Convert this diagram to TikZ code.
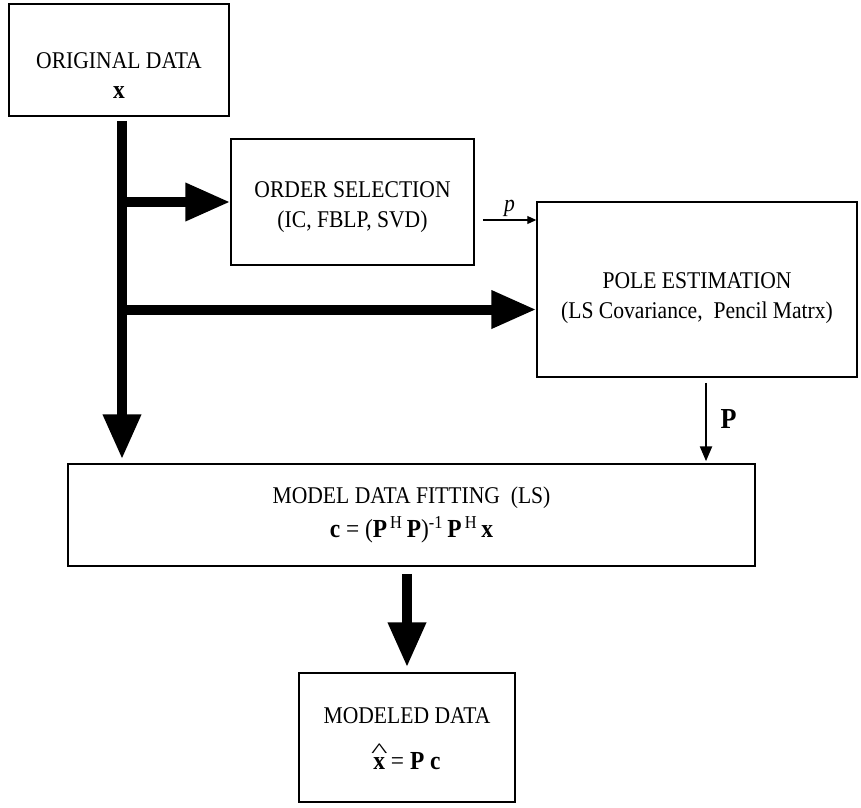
\documentclass[tikz,border=0pt]{standalone}
\usepackage{fontspec}
\setmainfont{Liberation Serif}[FakeStretch=0.9]
\usetikzlibrary{arrows.meta,positioning,calc}

\newcommand{\bighat}[1]{\ooalign{#1\cr\hidewidth\raisebox{12pt}{\scalebox{1.5}[0.8]{\^{}}}\hidewidth\cr}}

\begin{document}
\begin{tikzpicture}
  [x=1pt, y=-1pt,
   block/.style={
     rectangle,
     draw,
     line width=1.5pt,
     inner sep=0pt
     },
   blocktext/.style={
     inner sep=0pt,
     align=center,
     font=\fontsize{24}{30}\selectfont
     },
   bigarrow/.style={line width=10pt, -{Triangle[length=45pt,width=36pt]}},
   thinarrow/.style={line width=2.4pt, -{Triangle[length=15pt,width=12pt]}},
   hairarrow/.style={line width=1.2pt, -{Triangle[length=9pt,width=8pt]}}
  ]
  \useasboundingbox (0,0) rectangle (861,807);

  \node [block, minimum width=220pt, minimum height=112pt] (original) at (119,60) {};
  \node [blocktext] (originaltext) at ($(original)+(0,16)$)
    {ORIGINAL DATA\\ {\fontsize{26}{30}\selectfont\textbf{x}}};

  \node [block, minimum width=243pt, minimum height=126pt] (order) at (352.5,202) {};
  \node [blocktext] (ordertext) at ($(order)+(0,5)$)
    {ORDER SELECTION\\ (IC, FBLP, SVD)};

  \node [block, minimum width=320pt, minimum height=175pt] (pole) at (697,289.5) {};
  \node [blocktext] (poletext) at ($(pole)+(0,9)$)
    {POLE ESTIMATION\\ (LS Covariance,\ \ Pencil Matrx)};

  \node [block, minimum width=687pt, minimum height=102pt] (fitting) at (411.5,515) {};
  \node [blocktext] (fittingtext) at ($(fitting)+(0,0)$)
    {MODEL DATA FITTING\ \ (LS)\\[4pt]
     {\fontsize{26}{30}\selectfont\textbf{c} = (\textbf{P}\textsuperscript{\,H}\,\textbf{P})\textsuperscript{-1}\,\textbf{P}\textsuperscript{\,H}\,\textbf{x}}};

  \node [block, minimum width=216pt, minimum height=129pt] (modeled) at (407,737.5) {};
  \node [blocktext] (modeledtext) at ($(modeled)+(0,1)$)
    {MODELED DATA\\[16pt]
     {\fontsize{26}{30}\selectfont\bighat{\textbf{x}} = \textbf{P} \textbf{c}}};

  % tronco principale e diramazioni
  \coordinate (trunk) at ($(original.south)+(3,4)$);
  \draw[bigarrow, shorten >=4pt] (trunk) -- (trunk |- fitting.north);
  \draw[bigarrow] (trunk |- order.west) -- (order.west);
  \coordinate (polein) at ($(pole.west)+(0,20)$);
  \draw[bigarrow] (trunk |- polein) -- (polein);

  \coordinate (pstart) at ($(order.east)+(8,18)$);
  \draw[hairarrow] (pstart) -- (pstart -| pole.west)
    node[midway, above=-1pt] {\fontsize{24}{30}\selectfont\textit{p}};

  \coordinate (pdown) at ($(pole.south)+(9,5)$);
  \draw[thinarrow, shorten >=2pt] (pdown) -- (pdown |- fitting.north)
    node[midway, right=10pt, yshift=4pt] {\fontsize{29}{31}\selectfont\textbf{P}};

  \coordinate (fitout) at ($(fitting.south)+(-4.5,7)$);
  \draw[bigarrow, shorten >=5pt] (fitout) -- (fitout |- modeled.north);
\end{tikzpicture}
\end{document}
